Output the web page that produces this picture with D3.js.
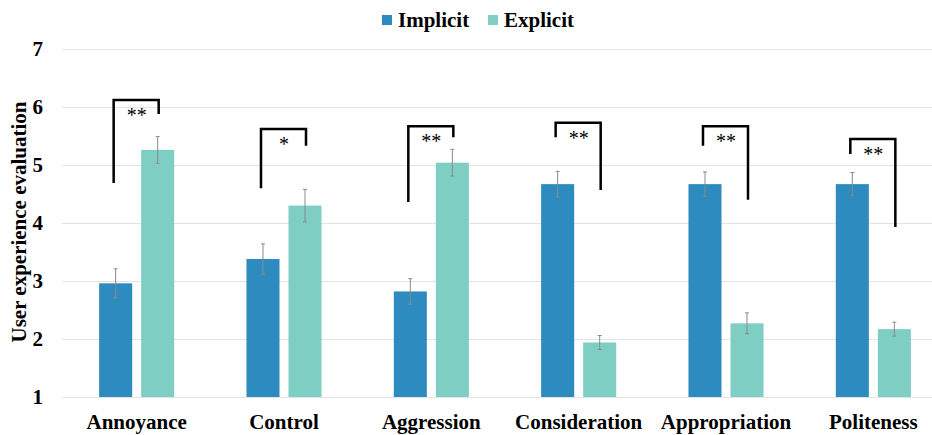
<!DOCTYPE html>
<html>
<head>
<meta charset="utf-8">
<script src="https://cdn.jsdelivr.net/npm/d3@7"></script>
<style>
  body { margin: 0; background: #fff; }
  text { font-family: "Liberation Serif", "Times New Roman", serif; font-weight: bold; }
</style>
</head>
<body>
<div id="chart"></div>
<script>
// chart data
var categories = ["Annoyance", "Control", "Aggression", "Consideration", "Appropriation", "Politeness"];
var series = ["Implicit", "Explicit"];
var implicitVals = [2.96, 3.38, 2.82, 4.67, 4.67, 4.67];
var implicitErr = [0.25, 0.26, 0.22, 0.22, 0.21, 0.2];
var explicitVals = [5.26, 4.30, 5.04, 1.94, 2.27, 2.17];
var explicitErr = [0.23, 0.28, 0.23, 0.12, 0.18, 0.12];
// significance brackets: top line, left leg end, right leg end (in axis units)
var sigTop = [6.12, 5.62, 5.67, 5.73, 5.67, 5.45];
var sigLeft = [4.69, 4.60, 4.36, 5.48, 5.33, 5.19];
var sigRight = [5.88, 5.33, 5.48, 4.57, 4.40, 3.93];
var sigMarks = ["**", "*", "**", "**", "**", "**"];
var yTicks = [1, 2, 3, 4, 5, 6, 7];

const width = 932, height = 435;
const colors = { Implicit: "#2e8bc0", Explicit: "#7ecec4" };

var svg = d3.select("#chart").append("svg")
  .attr("width", width)
  .attr("height", height);

var x = d3.scaleBand()
  .domain(categories)
  .range([63, 947]);

var xs = d3.scaleBand()
  .domain(series)
  .range([0, x.bandwidth()])
  .paddingInner(0.214)
  .paddingOuter(0.86);

var y = d3.scaleLinear()
  .domain([1, 7])
  .range([397, 49]);

// grid lines
svg.append("g")
  .selectAll("line")
  .data(yTicks)
  .enter().append("line")
  .attr("x1", 62)
  .attr("x2", width)
  .attr("y1", d => y(d) + 0.5)
  .attr("y2", d => y(d) + 0.5)
  .attr("stroke", "#e3e3e3")
  .attr("stroke-width", 1);

// y tick labels
svg.append("g")
  .selectAll("text")
  .data(yTicks)
  .enter().append("text")
  .attr("x", 43)
  .attr("y", d => y(d))
  .attr("dy", "0.35em")
  .attr("text-anchor", "end")
  .style("font-size", "21px")
  .text(d => d);

// y axis title
svg.append("text")
  .attr("transform", `translate(26,${(y(1) + y(7)) / 2 - 1}) rotate(-90)`)
  .attr("text-anchor", "middle")
  .style("font-size", "21px")
  .text("User experience evaluation");

// bars
var rows = categories.map((c, i) => ({
  cat: c,
  bars: [
    { s: "Implicit", v: implicitVals[i], e: implicitErr[i] },
    { s: "Explicit", v: explicitVals[i], e: explicitErr[i] }
  ]
}));

var groups = svg.selectAll(".cat")
  .data(rows)
  .enter().append("g")
  .attr("class", "cat")
  .attr("transform", d => `translate(${x(d.cat)},0)`);

groups.selectAll("rect")
  .data(d => d.bars)
  .enter().append("rect")
  .attr("x", d => xs(d.s))
  .attr("width", xs.bandwidth())
  .attr("y", d => y(d.v))
  .attr("height", d => y(1) - y(d.v))
  .attr("fill", d => colors[d.s]);

// error bars
var err = groups.selectAll(".err")
  .data(d => d.bars)
  .enter().append("g")
  .attr("class", "err")
  .attr("stroke", "#8a8a8a")
  .attr("stroke-width", 1);

err.append("line")
  .attr("x1", d => xs(d.s) + xs.bandwidth() / 2)
  .attr("x2", d => xs(d.s) + xs.bandwidth() / 2)
  .attr("y1", d => y(d.v + d.e))
  .attr("y2", d => y(d.v - d.e));

[1, -1].forEach(k => {
  err.append("line")
    .attr("x1", d => xs(d.s) + xs.bandwidth() / 2 - 2)
    .attr("x2", d => xs(d.s) + xs.bandwidth() / 2 + 2)
    .attr("y1", d => y(d.v + k * d.e))
    .attr("y2", d => y(d.v + k * d.e));
});

// significance brackets
var sig = svg.selectAll(".sig")
  .data(categories)
  .enter().append("g")
  .attr("class", "sig")
  .attr("transform", d => `translate(${x(d)},0)`);

sig.append("path")
  .attr("fill", "none")
  .attr("stroke", "#000")
  .attr("stroke-width", 2.5)
  .attr("d", (d, i) => {
    var x1 = xs("Implicit") + xs.bandwidth() / 2 - 2;
    var x2 = xs("Explicit") + xs.bandwidth() / 2 + 1;
    return `M${x1},${y(sigLeft[i])}V${y(sigTop[i])}H${x2}V${y(sigRight[i])}`;
  });

sig.append("text")
  .attr("x", (xs("Implicit") + xs("Explicit") + xs.bandwidth()) / 2)
  .attr("y", (d, i) => y(sigTop[i]) + 22)
  .attr("text-anchor", "middle")
  .style("font-size", "20px")
  .style("font-weight", "normal")
  .text((d, i) => sigMarks[i]);

// x labels
svg.append("g")
  .selectAll("text")
  .data(categories)
  .enter().append("text")
  .attr("x", d => x(d) + x.bandwidth() / 2)
  .attr("y", 429)
  .attr("text-anchor", "middle")
  .style("font-size", "21px")
  .text(d => d);

// legend
var legend = svg.selectAll(".legend")
  .data(series)
  .enter().append("g")
  .attr("class", "legend")
  .attr("transform", (d, i) => `translate(${382 + i * 106},15)`);

legend.append("rect")
  .attr("width", 10)
  .attr("height", 10)
  .attr("fill", d => colors[d]);

legend.append("text")
  .attr("x", 16)
  .attr("y", 5)
  .attr("dy", "0.35em")
  .style("font-size", "21px")
  .text(d => d);
</script>
</body>
</html>
